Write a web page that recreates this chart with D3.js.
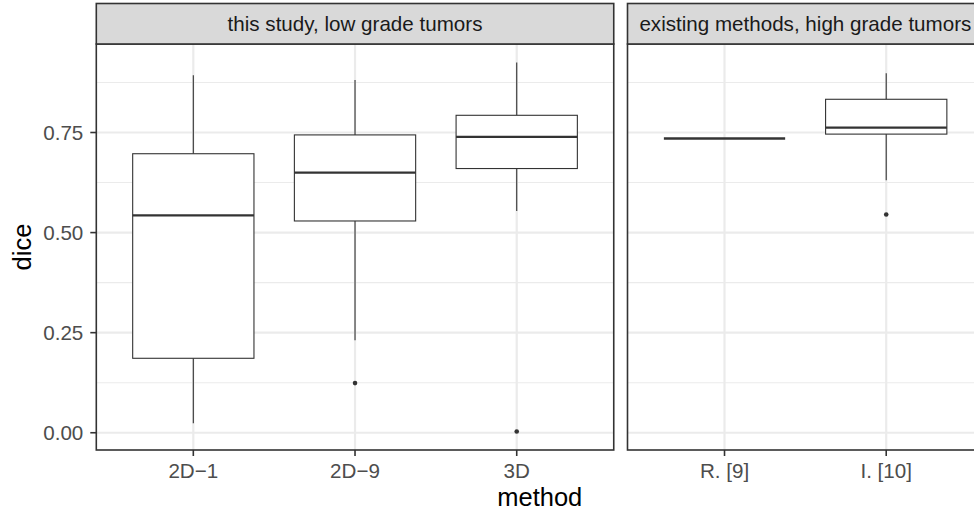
<!DOCTYPE html>
<html>
<head>
<meta charset="utf-8">
<script src="https://cdn.jsdelivr.net/npm/d3@7"></script>
<style>
  body { margin: 0; background: #fff; }
  svg { display: block; font-family: "Liberation Sans", Arial, sans-serif; }
</style>
</head>
<body>
<div id="vis"></div>
<script>
// data ---------------------------------------------------------------
const PANELS = ["this study, low grade tumors", "existing methods, high grade tumors"];
const METHODS = ["2D\u22121", "2D\u22129", "3D", "R. [9]", "I. [10]"];
const PANEL_OF = [0, 0, 0, 1, 1];
const WHISK_LO = [0.024, 0.231, 0.554, 0.735, 0.631];
const Q1 = [0.186, 0.529, 0.660, 0.735, 0.746];
const MEDIAN = [0.543, 0.650, 0.739, 0.735, 0.762];
const Q3 = [0.697, 0.744, 0.793, 0.735, 0.833];
const WHISK_HI = [0.893, 0.881, 0.925, 0.735, 0.898];
const OUTLIERS = [[], [0.124], [0.003], [], [0.545]];
const Y_TICKS = [0, 0.25, 0.5, 0.75];
const Y_MINOR = [0.125, 0.375, 0.625, 0.875];

// layout -------------------------------------------------------------
const WIDTH = 974;
const HEIGHT = 512;
const PANEL_TOP = 44;
const PANEL_BOTTOM = 450;
const STRIP_TOP = 3.5;
const UNIT = 161.7;            // px per discrete step
const PANEL_X0 = [96.3, 627.5];
const TEXT_SIZE = 20.6;
const TITLE_SIZE = 25.5;

const svg = d3.select("#vis").append("svg")
  .attr("width", WIDTH).attr("height", HEIGHT);

// y scale with 5% expansion like ggplot
const allVals = WHISK_LO.concat(WHISK_HI, OUTLIERS.flat());
const yMin = d3.min(allVals), yMax = d3.max(allVals);
const pad = (yMax - yMin) * 0.05;
const y = d3.scaleLinear().domain([yMin - pad, yMax + pad]).range([PANEL_BOTTOM, PANEL_TOP]);

PANELS.forEach((title, p) => {
  const idx = METHODS.map((m, i) => i).filter(i => PANEL_OF[i] === p);
  const cats = idx.map(i => METHODS[i]);
  const n = cats.length;
  const x0 = PANEL_X0[p];
  const w = (n + 0.2) * UNIT;
  const x = d3.scaleLinear().domain([0.4, n + 0.6]).range([x0, x0 + w]);
  const g = svg.append("g");

  // panel background
  g.append("rect").attr("x", x0).attr("y", PANEL_TOP)
    .attr("width", w).attr("height", PANEL_BOTTOM - PANEL_TOP).attr("fill", "#fff");

  // grid
  g.selectAll(".minor").data(Y_MINOR).join("line")
    .attr("x1", x0).attr("x2", x0 + w)
    .attr("y1", d => y(d)).attr("y2", d => y(d))
    .attr("stroke", "#ebebeb").attr("stroke-width", 1.1);
  g.selectAll(".major").data(Y_TICKS).join("line")
    .attr("x1", x0).attr("x2", x0 + w)
    .attr("y1", d => y(d)).attr("y2", d => y(d))
    .attr("stroke", "#ebebeb").attr("stroke-width", 2.2);
  g.selectAll(".vmajor").data(cats).join("line")
    .attr("x1", (d, i) => x(i + 1)).attr("x2", (d, i) => x(i + 1))
    .attr("y1", PANEL_TOP).attr("y2", PANEL_BOTTOM)
    .attr("stroke", "#ebebeb").attr("stroke-width", 2.2);

  // boxes
  const bw = 0.75 * UNIT;
  idx.forEach((i, k) => {
    const cx = x(k + 1);
    const bg = g.append("g").attr("stroke", "#333333").attr("fill", "none");
    bg.append("line").attr("x1", cx).attr("x2", cx)
      .attr("y1", y(Q3[i])).attr("y2", y(WHISK_HI[i])).attr("stroke-width", 1.1);
    bg.append("line").attr("x1", cx).attr("x2", cx)
      .attr("y1", y(Q1[i])).attr("y2", y(WHISK_LO[i])).attr("stroke-width", 1.1);
    bg.append("rect").attr("x", cx - bw / 2).attr("width", bw)
      .attr("y", y(Q3[i])).attr("height", y(Q1[i]) - y(Q3[i]))
      .attr("fill", "#fff").attr("stroke-width", 1.1);
    bg.append("line").attr("x1", cx - bw / 2).attr("x2", cx + bw / 2)
      .attr("y1", y(MEDIAN[i])).attr("y2", y(MEDIAN[i])).attr("stroke-width", 2.3);
    g.selectAll(null).data(OUTLIERS[i]).join("circle")
      .attr("cx", cx).attr("cy", d => y(d)).attr("r", 2.3).attr("fill", "#333333");
  });

  // panel border
  g.append("rect").attr("x", x0).attr("y", PANEL_TOP)
    .attr("width", w).attr("height", PANEL_BOTTOM - PANEL_TOP)
    .attr("fill", "none").attr("stroke", "#333333").attr("stroke-width", 1.6);

  // strip
  g.append("rect").attr("x", x0).attr("y", STRIP_TOP)
    .attr("width", w).attr("height", PANEL_TOP - STRIP_TOP)
    .attr("fill", "#d9d9d9").attr("stroke", "#333333").attr("stroke-width", 1.6);
  g.append("text").attr("x", x0 + w / 2).attr("y", (STRIP_TOP + PANEL_TOP) / 2)
    .attr("text-anchor", "middle").attr("dominant-baseline", "central")
    .attr("font-size", TEXT_SIZE).attr("fill", "#1a1a1a").text(title);

  // x axis
  const xa = g.append("g");
  cats.forEach((c, k) => {
    xa.append("line").attr("x1", x(k + 1)).attr("x2", x(k + 1))
      .attr("y1", PANEL_BOTTOM).attr("y2", PANEL_BOTTOM + 6)
      .attr("stroke", "#333333").attr("stroke-width", 1.6);
    xa.append("text").attr("x", x(k + 1)).attr("y", 478)
      .attr("text-anchor", "middle").attr("font-size", TEXT_SIZE)
      .attr("fill", "#4d4d4d").text(c);
  });

  // y axis on the first panel only
  if (p === 0) {
    const ya = g.append("g");
    Y_TICKS.forEach(t => {
      ya.append("line").attr("x1", x0 - 6).attr("x2", x0)
        .attr("y1", y(t)).attr("y2", y(t))
        .attr("stroke", "#333333").attr("stroke-width", 1.6);
      ya.append("text").attr("x", x0 - 13).attr("y", y(t))
        .attr("text-anchor", "end").attr("dominant-baseline", "central")
        .attr("font-size", TEXT_SIZE).attr("fill", "#4d4d4d").text(d3.format(".2f")(t));
    });
  }
});

// axis titles
svg.append("text").attr("x", (PANEL_X0[0] + PANEL_X0[1] + 2.2 * UNIT) / 2).attr("y", 506)
  .attr("text-anchor", "middle").attr("font-size", TITLE_SIZE).attr("fill", "#000").text("method");
svg.append("text")
  .attr("transform", `translate(31,${(PANEL_TOP + PANEL_BOTTOM) / 2}) rotate(-90)`)
  .attr("text-anchor", "middle").attr("font-size", TITLE_SIZE).attr("fill", "#000").text("dice");
</script>
</body>
</html>
